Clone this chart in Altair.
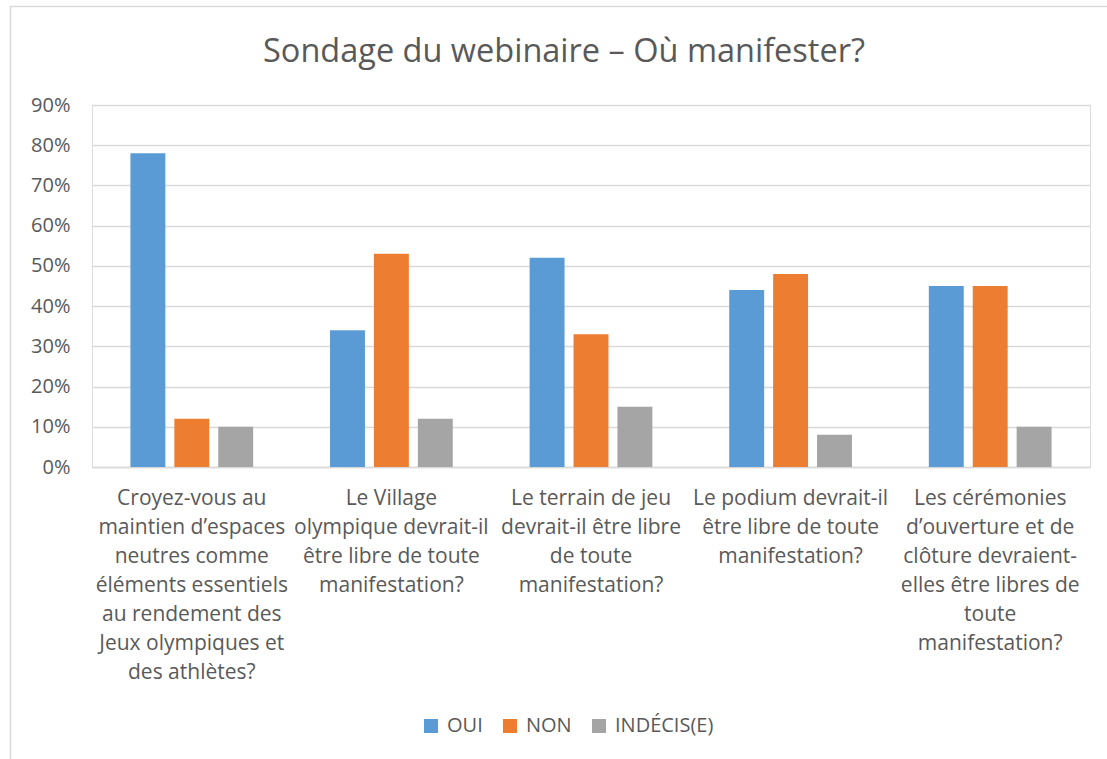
import altair as alt
import pandas as pd

title_text = ["Sondage du webinaire – Où manifester?"]
categories = [
    "Croyez-vous au|maintien d’espaces|neutres comme|éléments essentiels|au rendement des|Jeux olympiques et|des athlètes?",
    "Le Village|olympique devrait-il|être libre de toute|manifestation?",
    "Le terrain de jeu|devrait-il être libre|de toute|manifestation?",
    "Le podium devrait-il|être libre de toute|manifestation?",
    "Les cérémonies|d’ouverture et de|clôture devraient-|elles être libres de|toute|manifestation?",
]
series = ["OUI", "NON", "INDÉCIS(E)"]
oui = [0.78, 0.34, 0.52, 0.44, 0.45]
non = [0.12, 0.53, 0.33, 0.48, 0.45]
indecis = [0.10, 0.12, 0.15, 0.08, 0.10]
colors = ["#5B9BD5", "#ED7D31", "#A5A5A5"]
y_ticks = [0, 0.1, 0.2, 0.3, 0.4, 0.5, 0.6, 0.7, 0.8, 0.9]

rows = []
for i, c in enumerate(categories):
    for s, vals in zip(series, [oui, non, indecis]):
        rows.append({"cat": c, "serie": s, "val": vals[i]})
df = pd.DataFrame(rows)

FONT = "Open Sans"
TXT = "#595959"
GRID = "#D9D9D9"

bars = alt.Chart(df).mark_bar().encode(
    x=alt.X("cat:N", sort=categories,
            scale=alt.Scale(paddingInner=0.385, paddingOuter=0.1925),
            axis=alt.Axis(title=None, labelAngle=0, labelExpr="split(datum.label, '|')",
                          labelFont=FONT, labelFontSize=21, labelColor=TXT,
                          labelLineHeight=29, labelPadding=20, labelBaseline="top",
                          labelAlign="center", labelLimit=0,
                          ticks=False, domain=True, domainColor=GRID, domainWidth=1.3,
                          grid=False)),
    xOffset=alt.XOffset("serie:N", sort=series,
                        scale=alt.Scale(paddingInner=0.2045, paddingOuter=0)),
    y=alt.Y("val:Q", scale=alt.Scale(domain=[0, 0.9], nice=False),
            axis=alt.Axis(title=None, format=".0%", values=y_ticks,
                          labelFont=FONT, labelFontSize=20, labelColor=TXT,
                          labelPadding=22, ticks=False, domain=False,
                          grid=True, gridColor=GRID, gridWidth=1.3)),
    color=alt.Color("serie:N", sort=series,
                    scale=alt.Scale(domain=series, range=colors),
                    legend=alt.Legend(title=None, orient="none", direction="horizontal",
                                      legendX=329, legendY=611,
                                      symbolType="square", symbolSize=196,
                                      symbolStrokeWidth=0, labelFont=FONT,
                                      labelFontSize=20, labelColor=TXT,
                                      labelOffset=6, columnPadding=17)),
)

border = alt.Chart(pd.DataFrame({"a": [0]})).mark_rect(
    fillOpacity=0, stroke=GRID, strokeWidth=1.5
).encode(x=alt.value(-81.5), x2=alt.value(1100), y=alt.value(-98.5), y2=alt.value(700))

title = alt.Chart(pd.DataFrame({"t": title_text})).mark_text(
    font=FONT, fontSize=32.5, color=TXT, align="center", baseline="alphabetic"
).encode(text="t:N", x=alt.value(472), y=alt.value(-43))

chart = alt.layer(border, bars, title).properties(
    width=998, height=362,
    padding={"left": 92, "top": 105, "right": 17, "bottom": 292},
    autosize=alt.AutoSizeParams(type="none"),
).configure_view(stroke=None).configure(background="white")

chart.save("out.html", embed_options={"renderer": "svg", "actions": False})
